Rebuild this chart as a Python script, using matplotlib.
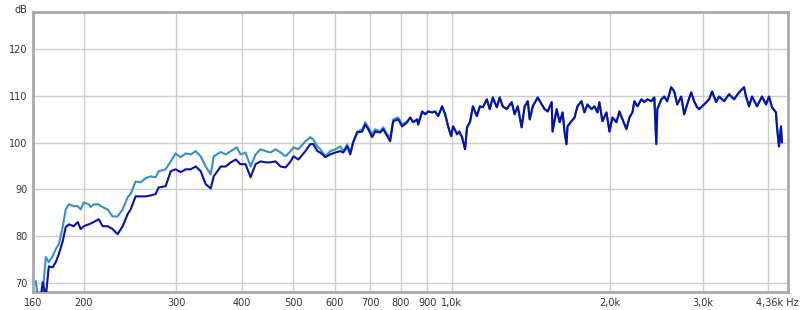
import matplotlib
matplotlib.use("Agg")
import matplotlib.pyplot as plt
from matplotlib.ticker import FixedLocator, NullLocator

# low part, the two traces differ
lo_freq_light = [162.1, 163.5, 167.0, 169.4, 171.6, 174.6, 176.9, 179.3, 182.4, 184.8,
                 187.3, 191.4, 194.8, 197.3, 200.0, 204.4, 206.0, 209.0, 213.0, 217.2,
                 222.0, 226.9, 231.9, 237.1, 242.3, 245.5, 250.9, 256.5, 262.1, 268.0,
                 273.9, 277.5, 286.2, 292.6, 299.0, 305.6, 312.4, 319.3, 326.4, 333.6,
                 341.0, 348.6, 353.2, 364.2, 372.3, 380.6, 391.0, 397.0, 406.0, 415.0,
                 424.2, 433.6, 443.1, 452.9, 463.0, 473.2, 483.7, 494.4, 500.9, 511.5,
                 527.4, 539.0, 546.1, 555.8, 563.1, 575.6, 588.3, 601.3, 614.5, 622.6,
                 633.6, 642.0, 650.4, 661.9, 676.5, 685.4, 694.5, 706.7, 716.1, 731.9,
                 741.6, 754.6, 764.6, 774.7, 791.8, 805.8, 823.6]
lo_db_light = [70.3, 67.0, 67.5, 75.5, 74.4, 75.7, 77.2, 78.2, 82.0, 85.7,
               86.8, 86.4, 86.4, 85.7, 87.2, 86.8, 86.2, 86.8, 86.8, 86.2,
               85.7, 84.2, 84.2, 85.7, 88.3, 89.0, 91.7, 91.5, 92.4, 92.8,
               92.6, 93.9, 94.3, 96.0, 97.7, 96.9, 97.7, 97.5, 98.2, 97.1,
               94.9, 93.2, 97.1, 98.0, 97.5, 98.2, 99.0, 97.5, 97.9, 94.9,
               97.5, 98.6, 98.2, 97.9, 98.6, 97.9, 97.1, 98.2, 99.0, 98.6,
               100.3, 101.2, 100.7, 99.2, 98.6, 97.1, 98.2, 98.6, 99.2, 98.2,
               99.7, 97.9, 100.3, 102.4, 102.9, 104.4, 103.3, 101.8, 102.9, 102.4,
               103.3, 101.8, 101.2, 105.0, 105.4, 103.9, 104.6]

lo_freq_dark = [165.7, 167.1, 169.4, 171.6, 174.6, 176.9, 179.3, 182.4, 184.8, 187.3,
                191.4, 194.8, 197.3, 200.0, 204.4, 208.9, 213.5, 217.2, 222.0, 226.9,
                231.9, 237.1, 242.3, 245.5, 250.9, 256.5, 262.1, 268.0, 273.9, 277.5,
                286.2, 292.6, 299.0, 305.6, 312.4, 319.3, 326.4, 333.6, 341.0, 348.6,
                353.2, 364.2, 372.3, 380.6, 389.0, 397.0, 406.0, 415.0, 424.2, 433.6,
                443.1, 452.9, 463.0, 473.2, 483.7, 494.4, 500.9, 511.5, 527.4, 539.0,
                546.1, 555.8, 563.1, 575.6, 588.3, 601.3, 614.5, 622.6, 633.6, 642.0,
                650.4, 661.9, 676.5, 685.4, 694.5, 706.7, 716.1, 731.9, 741.6, 754.6,
                764.6, 774.7, 791.8, 805.8, 823.6]
lo_db_dark = [67.0, 70.1, 67.0, 73.5, 73.3, 74.4, 76.1, 78.9, 81.9, 82.5,
              82.1, 83.0, 81.5, 82.1, 82.5, 83.0, 83.6, 82.1, 82.1, 81.5,
              80.4, 82.1, 84.7, 85.7, 88.5, 88.5, 88.5, 88.7, 89.0, 90.4,
              90.7, 93.9, 94.3, 93.7, 94.3, 94.3, 94.9, 93.9, 91.1, 90.2,
              92.8, 94.9, 94.9, 95.8, 96.4, 95.4, 95.4, 92.6, 95.4, 96.0,
              95.8, 95.8, 96.0, 94.9, 94.7, 96.0, 97.1, 96.4, 98.2, 99.7,
              99.7, 98.2, 97.9, 96.9, 97.5, 97.9, 98.2, 97.9, 99.2, 97.5,
              100.1, 102.2, 102.4, 103.9, 102.9, 101.2, 102.4, 102.2, 102.9, 101.4,
              100.3, 104.6, 105.0, 103.5, 104.4]

# upper part, both traces lie on top of each other
hi_freq = [834.5, 845.5, 860.4, 864.1, 879.4, 891.0, 902.8, 918.7, 930.8, 943.1,
           959.7, 972.4, 985.2, 998.2, 1007, 1025, 1034, 1047, 1061, 1070,
           1084, 1098, 1117, 1132, 1147, 1167, 1182, 1198, 1219, 1235,
           1251, 1273, 1301, 1318, 1336, 1359, 1377, 1396, 1408, 1427,
           1458, 1484, 1503, 1523, 1550, 1556, 1584, 1605, 1626, 1640,
           1654, 1661, 1690, 1713, 1735, 1766, 1789, 1813, 1845, 1869,
           1894, 1910, 1935, 1970, 1996, 2022, 2058, 2085, 2113, 2150,
           2178, 2207, 2226, 2256, 2295, 2326, 2356, 2397, 2429, 2450,
           2461, 2504, 2537, 2570, 2615, 2650, 2685, 2732, 2768, 2804,
           2854, 2891, 2929, 2955, 3020, 3087, 3128, 3183, 3225, 3296,
           3369, 3443, 3519, 3597, 3628, 3676, 3725, 3807, 3891, 3960,
           4012, 4065, 4136, 4154, 4191, 4228, 4246]
hi_db = [105.4, 104.4, 105.0, 103.9, 106.7, 106.1, 106.7, 106.5, 106.7, 105.7,
         107.8, 106.1, 103.5, 101.4, 103.5, 101.8, 102.4, 101.2, 98.6, 103.3,
         104.4, 107.8, 105.7, 107.8, 107.6, 109.3, 107.2, 109.7, 107.6, 109.7,
         107.8, 107.2, 108.7, 106.1, 107.8, 103.3, 107.8, 108.9, 105.0, 107.8,
         109.7, 108.2, 107.2, 106.7, 108.7, 102.4, 107.2, 104.4, 106.5, 102.2,
         99.7, 103.5, 104.6, 105.4, 107.8, 108.9, 106.5, 108.2, 107.2, 107.8,
         106.5, 108.7, 104.6, 106.5, 102.4, 105.4, 104.4, 106.7, 105.0, 102.9,
         105.4, 106.5, 108.9, 107.8, 109.3, 108.7, 109.3, 108.9, 109.7, 99.7,
         107.2, 109.3, 109.9, 108.9, 111.9, 111.0, 108.2, 109.9, 106.1, 108.2,
         110.8, 108.9, 107.6, 107.2, 108.2, 109.3, 111.0, 108.7, 109.9, 108.9,
         110.4, 109.3, 110.8, 111.9, 109.9, 107.8, 109.9, 107.8, 109.9, 108.2,
         109.9, 107.6, 106.5, 103.5, 99.2, 103.5, 100.1]

xticks = [160, 200, 300, 400, 500, 600, 700, 800, 900, 1000, 2000, 3000]
xlabels = ["160", "200", "300", "400", "500", "600", "700", "800", "900", "1,0k", "2,0k", "3,0k"]
xgrid = [200, 300, 400, 500, 600, 700, 800, 900, 1000, 2000, 3000, 4000]
yticks = [70, 80, 90, 100, 110, 120]

fig = plt.figure(figsize=(8, 3.1), dpi=100)
ax = fig.add_axes([0.041, 0.058, 0.944, 0.903])

ax.plot(lo_freq_light + hi_freq, lo_db_light + hi_db, color="#3a8fc6", lw=1.5, zorder=3)
ax.plot(lo_freq_dark + hi_freq, lo_db_dark + hi_db, color="#0a12a6", lw=1.5, zorder=4)

ax.set_xscale("log")
ax.set_xlim(160, 4360)
ax.set_ylim(68, 128)

ax.xaxis.set_major_locator(FixedLocator(xticks))
ax.set_xticklabels(xlabels)
ax.xaxis.set_minor_locator(NullLocator())
ax.set_yticks(yticks)
for g in xgrid:
    ax.axvline(g, color="#cccccc", lw=1, zorder=1)
for g in yticks:
    ax.axhline(g, color="#cccccc", lw=1, zorder=1)

ax.tick_params(length=0, labelsize=7, colors="#333333", pad=4)
for s in ax.spines.values():
    s.set_color("#a9a9a9")
    s.set_linewidth(2)

ax.annotate("4,36k Hz", xy=(1, 0), xycoords="axes fraction", xytext=(-8, -4),
            textcoords="offset points", ha="center", va="top", fontsize=7, color="#333333")
fig.text(0.026, 0.985, "dB", ha="center", va="top", fontsize=7, color="#333333")

fig.savefig("out.png", dpi=100)
